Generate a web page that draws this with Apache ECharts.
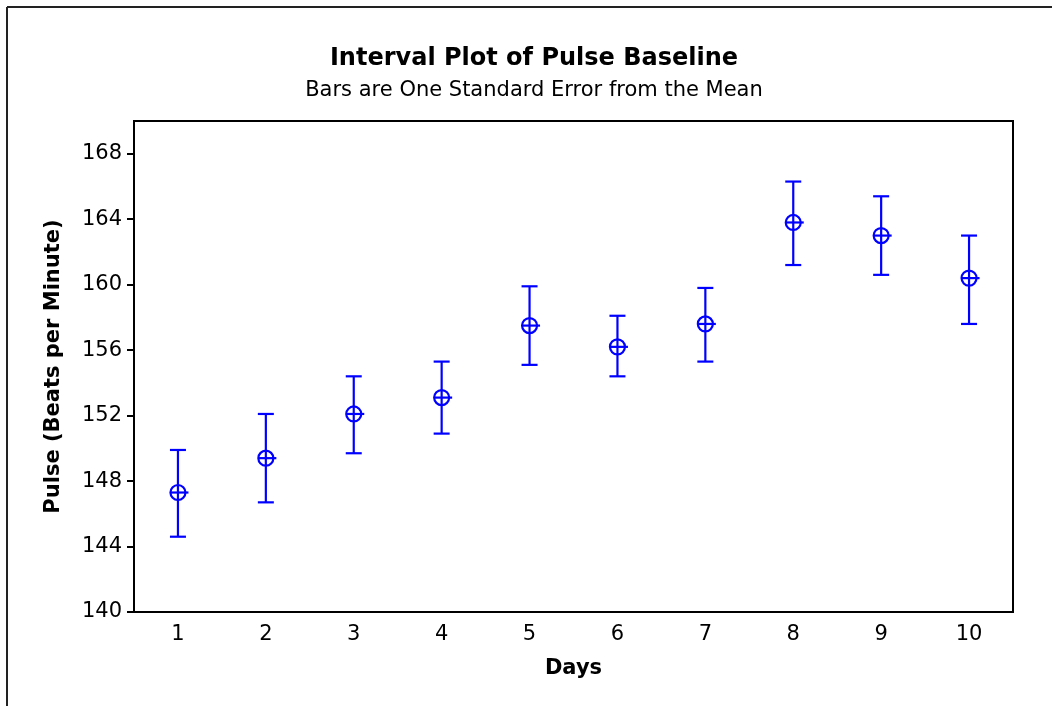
<!DOCTYPE html>
<html>
<head>
<meta charset="utf-8">
<script src="https://cdn.jsdelivr.net/npm/echarts@6/dist/echarts.min.js"></script>
<style>
  html, body { margin: 0; padding: 0; background: #fff; }
  #chart { width: 1052px; height: 706px; }
</style>
</head>
<body>
<div id="chart"></div>
<script>
// Pulse baseline per day: mean and one standard error either side
const days = ['1', '2', '3', '4', '5', '6', '7', '8', '9', '10']
const means = [147.3, 149.4, 152.1, 153.1, 157.5, 156.2, 157.6, 163.8, 163.0, 160.4]
const lower = [144.6, 146.7, 149.7, 150.9, 155.1, 154.4, 155.3, 161.2, 160.6, 157.6]
const upper = [149.9, 152.1, 154.4, 155.3, 159.9, 158.1, 159.8, 166.3, 165.4, 163.0]
const yTicks = [140, 144, 148, 152, 156, 160, 164, 168]

const FONT = 'DejaVu Sans'
const BLUE = '#0000ff'

const chart = echarts.init(document.getElementById('chart'))

// one item = [dayIndex, mean, lower, upper]
const items = days.map((d, i) => [i, means[i], lower[i], upper[i]])

function renderInterval(params, api) {
  const m = api.coord([api.value(0), api.value(1)])
  const lo = api.coord([api.value(0), api.value(2)])
  const hi = api.coord([api.value(0), api.value(3)])
  const cap = 8
  const r = 7.5
  const line = { stroke: BLUE, lineWidth: 2.2, fill: null }
  return {
    type: 'group',
    children: [
      { type: 'line', shape: { x1: lo[0], y1: lo[1], x2: hi[0], y2: hi[1] }, style: line },
      { type: 'line', shape: { x1: lo[0] - cap, y1: lo[1], x2: lo[0] + cap, y2: lo[1] }, style: line },
      { type: 'line', shape: { x1: hi[0] - cap, y1: hi[1], x2: hi[0] + cap, y2: hi[1] }, style: line },
      { type: 'circle', shape: { cx: m[0], cy: m[1], r: r }, style: line },
      { type: 'line', shape: { x1: m[0] - r, y1: m[1], x2: m[0] + r + 3, y2: m[1] }, style: line }
    ]
  }
}

const option = {
  backgroundColor: '#fff',
  animation: false,
  title: {
    text: 'Interval Plot of Pulse Baseline',
    subtext: 'Bars are One Standard Error from the Mean',
    left: 529,
    top: 42,
    textAlign: 'center',
    itemGap: 9,
    textStyle: { fontFamily: FONT, fontSize: 24, fontWeight: 'bold', color: '#000' },
    subtextStyle: { fontFamily: FONT, fontSize: 21, color: '#000' }
  },
  graphic: [
    { type: 'line', shape: { x1: 7, y1: 7, x2: 1052, y2: 7 }, style: { stroke: '#222', lineWidth: 2 } },
    { type: 'line', shape: { x1: 7, y1: 7, x2: 7, y2: 706 }, style: { stroke: '#222', lineWidth: 2 } }
  ],
  grid: {
    left: 134,
    right: 39,
    top: 121,
    bottom: 94,
    show: true,
    borderColor: '#000',
    borderWidth: 2,
    backgroundColor: '#fff'
  },
  xAxis: {
    type: 'category',
    data: days,
    boundaryGap: true,
    name: 'Days',
    nameLocation: 'middle',
    nameGap: 46,
    nameTextStyle: { fontFamily: FONT, fontSize: 21, fontWeight: 'bold', color: '#000' },
    axisLine: { lineStyle: { color: '#000', width: 2 } },
    axisTick: { alignWithLabel: true, length: 8, lineStyle: { color: '#000', width: 2 } },
    axisLabel: { fontFamily: FONT, fontSize: 21, color: '#000', margin: 12 },
    splitLine: { show: false }
  },
  yAxis: {
    type: 'value',
    min: 140,
    max: 170,
    interval: 4,
    name: 'Pulse (Beats per Minute)',
    nameLocation: 'middle',
    nameGap: 70,
    nameTextStyle: { fontFamily: FONT, fontSize: 21, fontWeight: 'bold', color: '#000' },
    axisLine: { show: true, lineStyle: { color: '#000', width: 2 } },
    axisTick: { show: true, length: 7, customValues: yTicks, lineStyle: { color: '#000', width: 2 } },
    axisLabel: { fontFamily: FONT, fontSize: 21, color: '#000', margin: 12, customValues: yTicks },
    splitLine: { show: false }
  },
  series: [
    {
      type: 'custom',
      renderItem: renderInterval,
      encode: { x: 0, y: [1, 2, 3] },
      data: items,
      clip: false
    }
  ]
}

chart.setOption(option)
</script>
</body>
</html>
